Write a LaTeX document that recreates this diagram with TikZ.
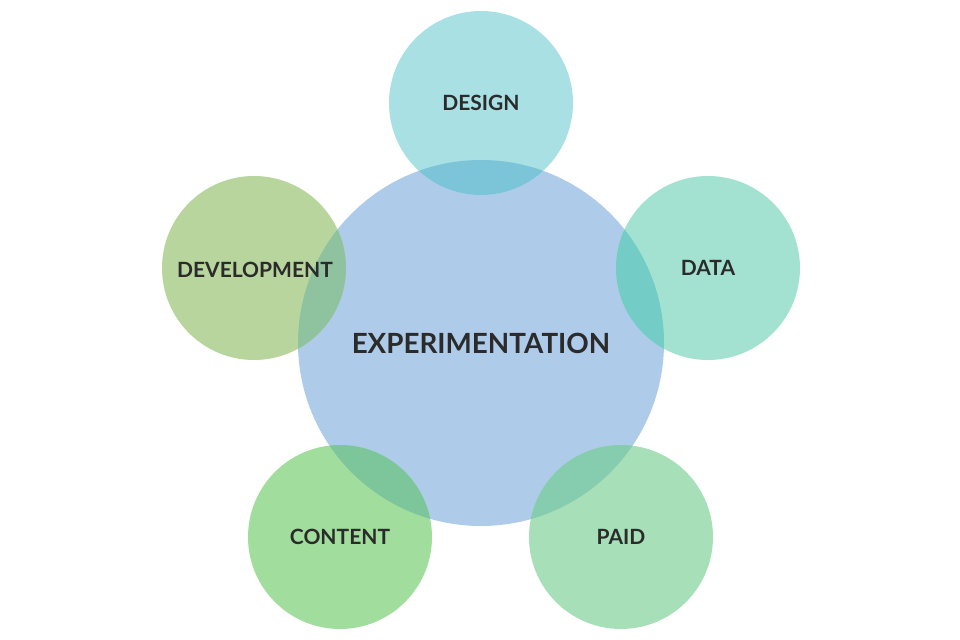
\documentclass[tikz,border=0pt]{standalone}
\usepackage{fontspec}
\setmainfont{Lato}
\usetikzlibrary{calc}

\definecolor{expblue}{HTML}{AECBE9}
\definecolor{designcol}{HTML}{A8E0E4}
\definecolor{datacol}{HTML}{A3E2D0}
\definecolor{devcol}{HTML}{B7D59C}
\definecolor{contentcol}{HTML}{A1DD9C}
\definecolor{paidcol}{HTML}{A7E0B8}
\definecolor{designov}{HTML}{7CC5D9}
\definecolor{dataov}{HTML}{74CCC6}
\definecolor{devov}{HTML}{8FC3A0}
\definecolor{contentov}{HTML}{7DC69C}
\definecolor{paidov}{HTML}{86CCAE}
\definecolor{labelcol}{HTML}{2B2B2B}

\tikzset{
	label text/.style={text=labelcol, font=\bfseries\fontsize{10.5}{12}\selectfont},
	main text/.style={text=labelcol, font=\bfseries\fontsize{13.9}{16}\selectfont}
}

\begin{document}
\begin{tikzpicture}[x=0.5pt, y=-0.5pt]
	\useasboundingbox (0, 0) rectangle (960, 640);
	% Hình tròn trung tâm
	\coordinate (exp) at (481, 343);
	\fill[expblue] (exp) circle (91.5pt);
	% Các hình tròn bao quanh
	\foreach \name/\x/\y in {design/481/103, data/708/268, dev/254/268, content/340/537, paid/621/537} {
		\coordinate (\name) at (\x, \y);
		\fill[\name col] (\name) circle (46pt);
		\begin{scope}
			\clip (exp) circle (91.5pt);
			\fill[\name ov] (\name) circle (46pt);
		\end{scope}
	}
	% Nhãn
	\node[main text] (expl) at (exp) {EXPERIMENTATION};
	\node[label text] (designl) at (design) {DESIGN};
	\node[label text] (datal) at (data) {DATA};
	\node[label text] (devl) at ($(dev) + (1, 2)$) {DEVELOPMENT};
	\node[label text] (contentl) at (content) {CONTENT};
	\node[label text] (paidl) at (paid) {PAID};
\end{tikzpicture}
\end{document}
